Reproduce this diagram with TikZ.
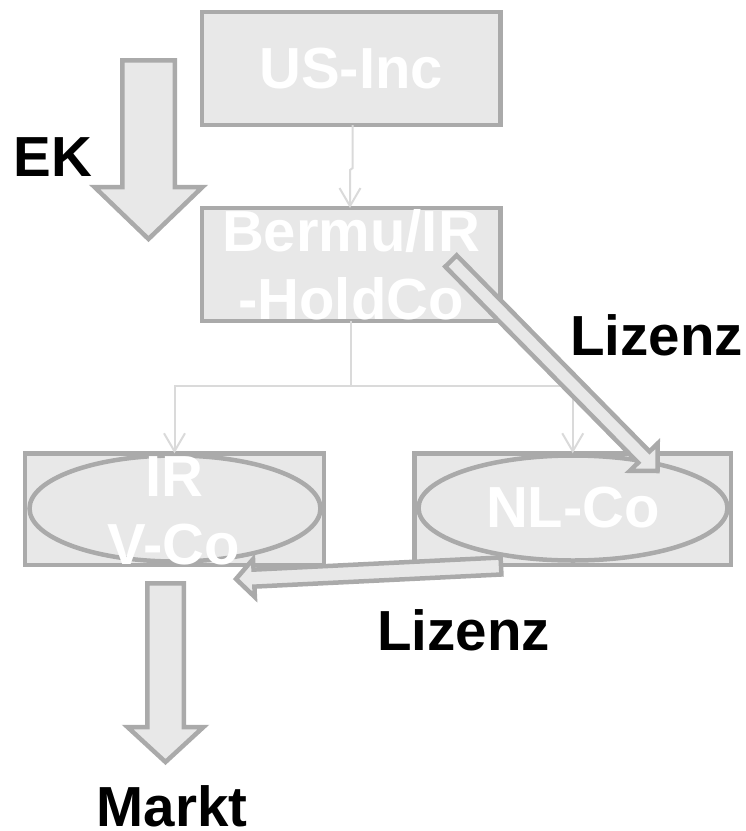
\documentclass[tikz,border=0pt]{standalone}
\usepackage{fontspec}
\setmainfont{Liberation Sans}
\usetikzlibrary{arrows.meta,calc,shapes.geometric}

\definecolor{boxfill}{HTML}{E8E8E8}
\definecolor{boxline}{HTML}{AAAAAA}
\definecolor{linkline}{HTML}{DADADA}

% Block arrow from tail coordinate #1 to tip coordinate #2:
% #3 half shaft width, #4 half head width, #5 head length
\newcommand\blockarrow[5]{%
  \coordinate (#1-hb) at ($(#2)!#5!(#1)$);
  \draw[bigarrow]
    ($(#1)!#3!90:(#2)$) -- ($(#1-hb)!#3!-90:(#1)$) -- ($(#1-hb)!#4!-90:(#1)$)
    -- (#2)
    -- ($(#1-hb)!#4!90:(#1)$) -- ($(#1-hb)!#3!90:(#1)$) -- ($(#1)!#3!-90:(#2)$)
    -- cycle;}

\begin{document}
\begin{tikzpicture}[x=1pt,y=-1pt,
  entity/.style={draw=boxline, fill=boxfill, line width=4.5pt, inner sep=0pt, outer sep=0pt},
  firm/.style={entity, rectangle},
  oval/.style={entity, ellipse},
  inbox/.style={text=white, font=\fontsize{58}{68}\selectfont\bfseries, align=center},
  tag/.style={text=black, font=\fontsize{56.5}{68}\selectfont\bfseries, inner sep=0pt, anchor=base},
  conn/.style={draw=linkline, line width=2pt, -{Straight Barb[length=18pt,width=21pt]}},
  bigarrow/.style={draw=boxline, fill=boxfill, line width=4.5pt, line join=miter}]

\useasboundingbox (0,0) rectangle (746,831);

% companies
\node[firm, inbox, minimum width=298.5pt, minimum height=113pt] (usinc) at (351,68.5) {US-Inc};
\node[firm, inbox, minimum width=298.5pt, minimum height=113pt] (bermu) at (351,264.5) {Bermu/IR\\-HoldCo};
\node[firm, minimum width=299pt, minimum height=111.5pt] (irbox) at (174.5,509) {};
\node[firm, minimum width=316.5pt, minimum height=111.5pt] (nlbox) at (572.75,509) {};
\node[oval, minimum width=291pt, minimum height=106pt] (irco) at (175,508.5) {};
\node[oval, inbox, minimum width=309pt, minimum height=105pt] (nlco) at (573,508) {NL-Co};
\node[inbox, inner sep=0pt] (irname) at (174,510.75) {IR\\V-Co};

% ownership links
\draw[conn] ([xshift=1.7pt]usinc.south) -- ++(0,43) -- ++(-2.7,2) -- ([xshift=-1pt]bermu.north);
\draw[conn] (bermu.south) -- ++(0,65) coordinate (split) -| (irbox.north);
\draw[conn] (split) -| (nlbox.north);

% flows
\coordinate (ektail) at (148.5,60.25);
\coordinate (ektip) at (148.5,239);
\blockarrow{ektail}{ektip}{26.25pt}{54pt}{52pt}

\coordinate (liztail) at (451,261);
\coordinate (liztip) at (657.5,471);
\blockarrow{liztail}{liztip}{8pt}{19.5pt}{19.5pt}

\coordinate (subtail) at (501,566);
\coordinate (subtip) at (236,579);
\blockarrow{subtail}{subtip}{8.5pt}{19pt}{18pt}

\coordinate (mkttail) at (165.5,583.25);
\coordinate (mkttip) at (165.5,762);
\blockarrow{mkttail}{mkttip}{18.25pt}{38pt}{35pt}

% labels
\node[tag] (ek) at (53,176) {EK};
\node[tag] (lizenzup) at (656.5,355) {Lizenz};
\node[tag] (lizenzlow) at (463.5,650) {Lizenz};
\node[tag] (markt) at (172,826.5) {Markt};
\end{tikzpicture}
\end{document}
